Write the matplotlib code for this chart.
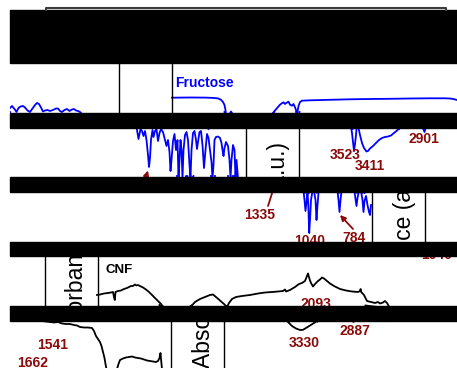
import matplotlib
matplotlib.use("Agg")
import matplotlib.pyplot as plt
from matplotlib.patches import Rectangle, FancyArrowPatch
from matplotlib.transforms import Bbox, TransformedBbox

plt.rcParams['font.family'] = ['Liberation Sans', 'DejaVu Sans']

W, H = 457, 368
WRAP = 454

# the picture is made of five horizontal bands of one spectrum figure,
# each band slid sideways (wrapping round) and separated by black bars
band_top = [63, 128, 192, 256, 321]
band_bot = [113, 177, 242, 306, 368]
band_dx = [0, 126.5, 253, 379.5, 506]
band_dy = [0, 15, 30, 44, 59]
bar_top = [10, 113, 177, 242, 306]
bar_bot = [63, 128, 192, 256, 321]

BLUE = '#0000ff'
RED = '#8b0a0a'

# traces: (band they were read in, x list, y list)
fructose_top_x = [172, 190, 205, 213, 218, 221, 223, 224.5, 225.3, 226]
fructose_top_y = [97.7, 97.5, 97.6, 97.9, 98.4, 99.8, 102, 105, 109, 114]
fructose_right_x = [272.5, 275, 278, 280, 282, 283.5, 285, 286.5, 288.5, 290, 292,
                    293.5, 295.3, 296.3, 297.2, 298.5, 300, 302, 310, 330, 350,
                    370, 390, 410, 430, 445, 451, 454.5, 457]
fructose_right_y = [114, 110.5, 107, 104.7, 103.2, 102.3, 104, 102.8, 101.7, 104.7,
                    105.7, 104, 108, 111, 113.5, 106, 102, 100.7, 100.3, 99.8, 99.3,
                    99, 98.8, 98.5, 98.3, 98.3, 98.6, 99.3, 100]
fructose_left_x = [10, 12, 14.5, 16.5, 18.5, 20.5, 23, 25, 27.5, 30, 32.5, 35, 37,
                   39, 41, 43, 45, 47.5, 50, 53, 56, 58, 60, 62, 64.5, 67, 69.5, 72,
                   74, 76, 78, 80, 82]
fructose_left_y = [108, 106, 109, 112, 108, 106.5, 106, 107.5, 110.5, 112, 108.5,
                   105, 103, 104, 107.5, 111.5, 110.5, 110, 111, 110, 108.5, 108.5,
                   111, 112, 110, 109, 111, 109.5, 109, 110.5, 111, 112, 114]
dips_a_x = [136.5, 137.5, 138.5, 139.5, 140.5, 142, 143.5, 145, 146.5, 148, 149,
            150, 151, 152.5, 153.5, 155, 156.5, 158, 159.5, 161, 163, 165, 166.5,
            168, 169.5, 170.5, 171.5, 173, 174.5, 176, 177.5, 178.5, 179.5, 180.5,
            181.5, 182.5, 183.5, 185, 186.5, 188, 189.5, 190.5, 191.5, 193, 194.5,
            196, 197, 198, 199.5, 201, 202.5, 204, 205.5, 207, 208.5, 210, 211.5,
            212.5, 213.5, 214.5, 216, 218, 220, 221.5, 222.5, 223.5, 224.5, 226,
            228, 229.5, 230.5, 231.5, 233, 234.5, 235.5, 236.5, 238]
dips_a_y = [127, 133, 139, 134, 129, 131, 136, 131, 140, 155, 167, 158, 140, 130,
            137, 131, 129, 141, 133, 129, 132, 140, 146, 140, 152, 171, 160, 141,
            134, 150, 140, 178, 160, 140, 150, 178, 150, 135, 132, 140, 165, 178,
            150, 133, 131, 140, 149, 142, 132, 131, 145, 168, 150, 134, 138, 150,
            162, 178, 165, 140, 137, 136.5, 138, 143, 150, 156, 148, 142, 146, 160,
            178, 160, 145, 150, 178, 160, 178]
dip_3523_x = [351, 352, 353, 354, 355, 356, 356.6, 357.5, 358.5, 360, 362, 364,
              366.5, 368, 370, 373, 376, 379, 382, 385, 388, 391, 394, 397, 399,
              400.5]
dip_3523_y = [127, 133, 142, 151, 144, 135, 128, 126.5, 128, 135, 143, 148, 151.5,
              151, 148.5, 146, 143, 140, 138, 137, 136.5, 135.5, 133, 130.5, 128.5,
              127]
dip_2901_x = [422.5, 424.5, 426]
dip_2901_y = [127, 132, 127]
dips_b_x = [303.5, 304.5, 305.5, 306.5, 307.5, 308.3, 309.2, 310, 311, 312.5, 314,
            315.5, 316.5, 317.5, 318.5, 320]
dips_b_y = [191, 200, 211, 202, 193, 205, 233, 220, 200, 191, 191, 200, 220, 205,
            193, 191]
dip_784_x = [337.5, 338.5, 339.5, 340.5, 341.5]
dip_784_y = [191, 200, 212, 200, 191]
dips_c_x = [354.5, 355.5, 356.5, 357.5, 359, 361, 362.5, 363.5, 364.5, 366, 367.5,
            369, 370, 371]
dips_c_y = [191, 199, 206, 198, 191, 191, 200, 212, 201, 196, 205, 212, 215, 205]
cnf_left_x = [97, 100, 104, 108, 111, 113, 114, 114.8, 115.5, 118, 121, 124, 127,
              129, 131, 133, 135, 136.5, 138, 140, 143, 146, 149, 152, 155, 158,
              161, 163]
cnf_left_y = [295, 294.5, 293.5, 293, 292.5, 292, 297, 300, 292, 291, 290.5, 289,
              288, 287, 286, 286, 284.5, 285.5, 285, 286, 287.5, 289.5, 292, 295,
              298, 301, 304, 306.5]
cnf_right_x = [191, 195, 200, 205, 210, 213, 216, 220, 224, 226, 227, 229, 232,
               236, 242, 250, 258, 265, 272, 278, 283, 285, 286, 290, 295, 299, 302,
               305, 307, 308, 309.5, 311, 313, 315, 318, 320, 322, 324, 327, 330,
               334, 340, 346, 352, 358, 360, 360.6, 361.2, 364, 367, 371, 375, 378,
               380, 383, 385, 387, 389]
cnf_right_y = [306.5, 302, 299, 297, 295, 294.5, 297, 300.5, 304, 306, 307, 303,
               299, 297, 296, 295, 293.5, 292.5, 292, 291.5, 291, 289.5, 291.5, 290,
               287, 284, 283, 281, 276, 273.5, 279, 283, 286.5, 284, 281, 279.5,
               277.5, 278.5, 281, 283.5, 286, 289, 290.5, 291.5, 292, 291, 289,
               292, 295, 301, 302, 303, 302, 303.5, 302.5, 301, 303, 306.5]
cnf_low_x = [38, 42, 46, 50, 54, 58, 62, 66, 70, 74, 77, 80, 84, 88, 92, 94, 96, 98,
             100, 101.5, 103, 104.5, 105.5, 106.5]
cnf_low_y = [320.5, 321, 321.5, 322, 322.5, 322, 323.5, 324, 324, 325, 325.5, 327,
             327.5, 327.5, 328, 331, 336, 339, 342, 346, 352, 358, 364, 369]
cnf_tail_x = [117, 118.5, 120, 123, 126, 129, 132, 135, 138, 141, 144, 147, 150,
              153, 156, 158, 159.5, 160.5, 161.3, 162]
cnf_tail_y = [369, 364, 360, 358.5, 357.5, 357, 356.5, 357.5, 358, 358.5, 359.5,
              360.5, 361, 361.5, 362, 361, 358, 353, 362, 369]
cnf_dip_x = [286, 289, 292, 296, 300, 303, 306, 310, 314, 318]
cnf_dip_y = [320, 323, 326, 328.5, 330, 329.8, 328, 325.5, 323, 320.5]

blue_traces = [(0, fructose_top_x, fructose_top_y),
               (0, fructose_right_x, fructose_right_y),
               (0, fructose_left_x, fructose_left_y),
               (1, dips_a_x, dips_a_y),
               (1, dip_3523_x, dip_3523_y),
               (1, dip_2901_x, dip_2901_y),
               (2, dips_b_x, dips_b_y),
               (2, dip_784_x, dip_784_y),
               (2, dips_c_x, dips_c_y)]
black_traces = [(3, cnf_left_x, cnf_left_y),
                (3, cnf_right_x, cnf_right_y),
                (4, cnf_low_x, cnf_low_y),
                (4, cnf_tail_x, cnf_tail_y),
                (4, cnf_dip_x, cnf_dip_y)]

peak_labels = ['3523', '3411', '2901', '1335', '1040', '784', '2093',
               '1541', '1662', '3330', '2887']
peak_band = [1, 1, 1, 2, 2, 2, 3, 4, 4, 4, 4]
peak_x = [345, 370, 424, 260, 310, 354, 316, 53, 33, 304, 355]
peak_y = [155, 166, 139, 215, 241, 238.5, 303.5, 345, 363, 343, 331]

# arrows (band 2 coordinates): tail -> head
arrow_tail = [(268, 206), (353, 229)]
arrow_head = [(274.5, 185.5), (340, 215)]

fig = plt.figure(figsize=(W / 100, H / 100), dpi=100)
ax = fig.add_axes([0, 0, 1, 1])
ax.set_xlim(0, W)
ax.set_ylim(H, 0)
ax.axis('off')


def clip_to(artist, k):
    bb = TransformedBbox(Bbox([[10, band_top[k]], [W, band_bot[k]]]), ax.transData)
    artist.set_clip_on(True)
    artist.set_clip_box(bb)


def copies(src):
    # every band shows the same picture, slid by its own offset
    for k in range(5):
        dy = band_dy[k] - band_dy[src]
        for n in (-2, -1, 0, 1, 2):
            yield k, band_dx[k] - band_dx[src] + WRAP * n, dy


def seen(k, x0, x1, y0, y1):
    # does the box [x0,x1]x[y0,y1] reach into band k at all
    return x1 > 10 and x0 < W and y1 > band_top[k] and y0 < band_bot[k]


for col, traces in ((BLUE, blue_traces), ('black', black_traces)):
    for src, xs, ys in traces:
        for k, sx, sy in copies(src):
            if not seen(k, min(xs) + sx, max(xs) + sx, min(ys) + sy, max(ys) + sy):
                continue
            ln, = ax.plot([x + sx for x in xs], [y + sy for y in ys], color=col,
                          lw=1.3, solid_joinstyle='round')
            clip_to(ln, k)

# the two frame lines around the axis title
for x0 in (119, 172):
    for k, sx, sy in copies(0):
        if not seen(k, x0 + sx, x0 + sx, 0, H):
            continue
        ln, = ax.plot([x0 + sx, x0 + sx], [0, H], color='black', lw=1.0)
        clip_to(ln, k)

# rotated axis title, read at its start in the last band
for k, sx, sy in copies(4):
    if not seen(k, 190 + sx, 212 + sx, 367.5 + sy - 186, 367.5 + sy):
        continue
    t = ax.text(210 + sx, 367.5 + sy, 'Absorbance (a.u.)', rotation=90,
                rotation_mode='anchor', ha='left', va='baseline', fontsize=16.5,
                clip_on=True)
    clip_to(t, k)

for k, sx, sy in copies(0):
    if not seen(k, 175 + sx, 235 + sx, 77 + sy, 89 + sy):
        continue
    t = ax.text(175 + sx, 83 + sy, 'Fructose', color=BLUE, fontsize=10,
                fontweight='bold', ha='left', va='center', clip_on=True)
    clip_to(t, k)
for k, sx, sy in copies(3):
    if not seen(k, 106 + sx, 134 + sx, 264 + sy, 276 + sy):
        continue
    t = ax.text(106 + sx, 270 + sy, 'CNF', color='black', fontsize=9.5,
                fontweight='bold', ha='left', va='center', clip_on=True)
    clip_to(t, k)

for lab, src, x, y in zip(peak_labels, peak_band, peak_x, peak_y):
    for k, sx, sy in copies(src):
        if not seen(k, x + sx - 17, x + sx + 17, y + sy - 5, y + sy + 5):
            continue
        t = ax.text(x + sx, y + sy, lab, color=RED, fontsize=10, fontweight='bold',
                    ha='center', va='center', clip_on=True)
        clip_to(t, k)

for (tx, ty), (hx, hy) in zip(arrow_tail, arrow_head):
    for k, sx, sy in copies(2):
        if not seen(k, min(tx, hx) + sx, max(tx, hx) + sx,
                    min(ty, hy) + sy, max(ty, hy) + sy):
            continue
        a = FancyArrowPatch((tx + sx, ty + sy), (hx + sx, hy + sy), arrowstyle='-|>',
                            mutation_scale=8, color=RED, lw=1.3, shrinkA=0, shrinkB=0)
        ax.add_patch(a)
        clip_to(a, k)

for y0, y1 in zip(bar_top, bar_bot):
    ax.add_patch(Rectangle((10, y0), W - 10, y1 - y0, color='black', zorder=10))

ax.plot([46, 46, 446, 446], [10, 8, 8, 10], color='#3c3c3c', lw=1.5, zorder=11)

fig.savefig('out.png', dpi=100)
